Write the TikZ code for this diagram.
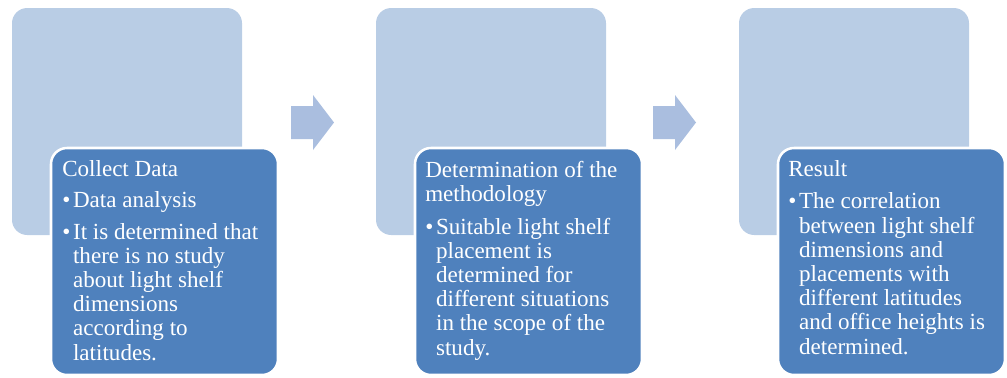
\documentclass[tikz,border=0pt]{standalone}
\usepackage{fontspec}
\setmainfont{Liberation Serif}

\definecolor{stepback}{HTML}{B9CDE5}
\definecolor{stepfront}{HTML}{4F81BD}
\definecolor{steparrow}{HTML}{AABEDF}
\def\bul{\makebox[0.27cm][l]{\textbullet}}
\def\ind{\hspace*{0.27cm}}

\tikzset{
  backbox/.style={fill=stepback, rounded corners=0.38cm},
  frontbox/.style={fill=stepfront, draw=white, line width=1.8pt, rounded corners=0.4cm},
  steptext/.style={anchor=base west, inner sep=0pt, text=white, align=left,
    font=\fontsize{16.4pt}{17.2pt}\selectfont},
}

\begin{document}
\begin{tikzpicture}[x=0.025cm,y=-0.025cm]
\useasboundingbox (0,0) rectangle (1007,377);
% three steps, back and front cards
\foreach \x in {12,376,739} {
  \fill [backbox] (\x,8) rectangle ++(230,227);
  \draw [frontbox] (\x+39,148) rectangle ++(227,227);
}
% block arrows
\foreach \x in {291,653}
  \fill [steparrow] (\x,106) -- ++(22,0) -- ++(0,-11) -- (\x+43,122.5)
    -- (\x+22,150) -- ++(0,-11) -- (\x,139) -- cycle;
% texts, placed by the baseline of their last line
\node [steptext] (collect) at (62,360) {Collect Data\\[5pt]
\bul Data analysis\\[5pt]
\bul It is determined that\\
\ind there is no study\\
\ind about light shelf\\
\ind dimensions\\
\ind according to\\
\ind latitudes.};
\node [steptext] (method) at (425,355) {Determination of the\\
methodology\\[6pt]
\bul Suitable light shelf\\
\ind placement is\\
\ind determined for\\
\ind different situations\\
\ind in the scope of the\\
\ind study.};
\node [steptext] (result) at (788,354) {Result\\[5.5pt]
\bul The correlation\\
\ind between light shelf\\
\ind dimensions and\\
\ind placements with\\
\ind different latitudes\\
\ind and office heights is\\
\ind determined.};
\end{tikzpicture}
\end{document}
